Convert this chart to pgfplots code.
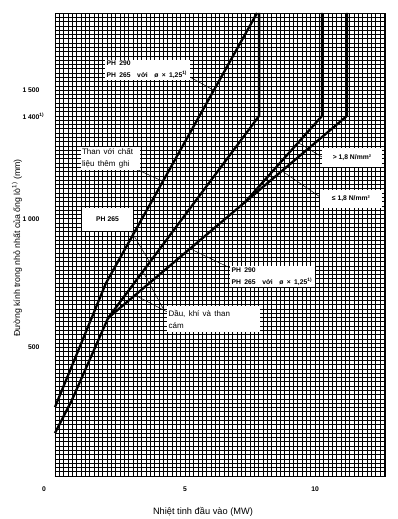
\documentclass[border=0pt]{standalone}
\usepackage{fontspec}
\setmainfont{Liberation Sans}
\usepackage{pgfplots}
\pgfplotsset{compat=1.18}
\newcommand\lab{\fontsize{6.8}{8}\selectfont\bfseries}
\newcommand\txt{\fontsize{8}{9}\selectfont}
\begin{document}
\begin{tikzpicture}
\useasboundingbox (-55bp,-43bp) rectangle (343bp,476bp);
\begin{axis}[
  at={(0,0)}, anchor=south west,
  scale only axis, width=330bp, height=463bp,
  xmin=0, xmax=12.69, ymin=0, ymax=1800,
  xtick={0,5,10}, xticklabels={,5,10},
  ytick={0,500,1000,1400,1500},
  yticklabels={,500,1 000,1 400\rlap{\textsuperscript{1)}},1 500},
  minor xtick={0,0.1666667,...,12.67},
  minor ytick={0,16.666667,...,1800},
  grid=both,
  minor grid style={black, line width=0.6bp},
  major grid style={black, line width=0.6bp},
  major tick length=0pt, minor tick length=0pt,
  axis line style={black, line width=0.8bp},
  ticklabel style={font=\fontsize{6.8}{7}\selectfont\bfseries},
  yticklabel style={xshift=-12bp},
  xticklabel style={yshift=-7bp},
  clip=false,
]
% curves
\addplot[black, line width=2.3bp] coordinates {(0,268) (1.96,750) (7.77,1800)};
\addplot[black, line width=2.3bp] coordinates {(0,167) (0.65,295) (2.04,614) (7.85,1400) (7.85,1800)};
\addplot[black, line width=2.3bp] coordinates {(2.04,614) (7.31,1065) (10.27,1400) (10.27,1800)};
\addplot[black, line width=2.3bp] coordinates {(7.31,1065) (11.23,1400) (11.23,1800)};
% pointers
\draw[black, line width=0.5bp] (axis cs:5.19,1551) -- (axis cs:6.08,1501);
\draw[black, line width=0.5bp] (axis cs:3.19,1190) -- (axis cs:4.12,1147);
\draw[black, line width=0.5bp] (axis cs:2.88,960) -- (axis cs:3.65,830);
\draw[black, line width=0.5bp] (axis cs:4.31,638) -- (axis cs:3.08,703);
\draw[black, line width=0.5bp] (axis cs:4.19,645) -- (axis cs:3.38,795);
\draw[black, line width=0.5bp] (axis cs:6.73,809) -- (axis cs:5.19,884);
\draw[black, line width=0.5bp] (axis cs:10.27,1240) -- (axis cs:9.35,1296);
\draw[black, line width=0.5bp] (axis cs:10.19,1085) -- (axis cs:8.73,1186);
% boxes
\node[fill=white, inner sep=1.5bp, align=left, text width=82bp, minimum height=20bp] at (axis cs:3.56,1578) {\lab PH 290\\PH 265 \ với \ ø × 1,25\textsuperscript{1)}};
\node[fill=white, inner sep=1.5bp, align=left, text width=56bp, minimum height=23bp] at (axis cs:2.12,1234) {\txt Than với chất\\liệu thêm ghi};
\node[fill=white, inner sep=1.5bp, align=center, minimum width=51bp, minimum height=23bp] at (axis cs:2.02,997) {\lab PH 265};
\node[fill=white, inner sep=1.5bp, align=left, text width=90bp, minimum height=26bp] at (axis cs:6.10,610) {\txt Dầu, khí và than\\cám};
\node[fill=white, inner sep=1.5bp, align=left, text width=82bp, minimum height=21bp] at (axis cs:8.37,776) {\lab PH 290\\PH 265 \ với \ ø × 1,25\textsuperscript{1)}};
\node[fill=white, inner sep=1.5bp, align=center, minimum width=60bp, minimum height=19bp] at (axis cs:11.42,1238) {\lab > 1,8 N/mm²};
\node[fill=white, inner sep=1.5bp, align=center, minimum width=62bp, minimum height=18bp] at (axis cs:11.38,1077) {\lab ≤ 1,8 N/mm²};
% corner zero and axis titles
\node[font=\fontsize{6.8}{7}\selectfont\bfseries] at ([xshift=-11bp, yshift=-13bp]axis cs:0,0) {0};
\node[font=\fontsize{9.3}{11}\selectfont] at ([yshift=-36bp]axis cs:5.69,0) {Nhiệt tinh đầu vào (MW)};
\node[font=\fontsize{8.8}{10}\selectfont, rotate=90] at ([xshift=-38bp]axis cs:0,886) {Đường kính trong nhỏ nhất của ống lò\textsuperscript{1)} (mm)};
\end{axis}
\end{tikzpicture}
\end{document}
